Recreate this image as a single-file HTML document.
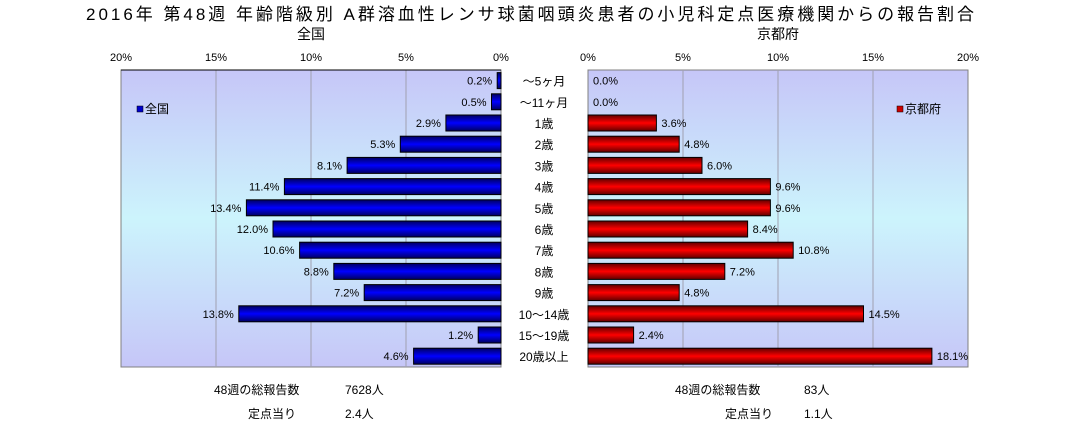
<!DOCTYPE html><html><head><meta charset="utf-8"><style>body{margin:0;background:#fff}svg{display:block}text{font-family:"Liberation Sans","Noto Sans CJK JP",sans-serif}</style></head><body>
<svg width="1083" height="429" viewBox="0 0 1083 429">
<defs>
<linearGradient id="bg" x1="0" y1="0" x2="0" y2="1"><stop offset="0" stop-color="#c6c6f8"/><stop offset="0.5" stop-color="#ccf4fc"/><stop offset="1" stop-color="#c6c6f8"/></linearGradient>
<linearGradient id="bl" x1="0" y1="0" x2="0" y2="1"><stop offset="0" stop-color="#000060"/><stop offset="0.5" stop-color="#0000ff"/><stop offset="1" stop-color="#000060"/></linearGradient>
<linearGradient id="rd" x1="0" y1="0" x2="0" y2="1"><stop offset="0" stop-color="#600000"/><stop offset="0.5" stop-color="#ff0000"/><stop offset="1" stop-color="#600000"/></linearGradient>
</defs>
<text x="86" y="20" font-size="17" textLength="888" lengthAdjust="spacing">2016年 第48週 年齢階級別 A群溶血性レンサ球菌咽頭炎患者の小児科定点医療機関からの報告割合</text>
<text x="311" y="39" font-size="14" text-anchor="middle">全国</text>
<text x="778" y="39" font-size="14" text-anchor="middle">京都府</text>
<g font-size="11" text-anchor="middle">
<text x="121" y="61">20%</text><text x="216" y="61">15%</text><text x="311" y="61">10%</text><text x="406" y="61">5%</text><text x="501" y="61">0%</text>
<text x="588" y="61">0%</text><text x="683" y="61">5%</text><text x="778" y="61">10%</text><text x="873" y="61">15%</text><text x="968" y="61">20%</text>
</g>
<rect x="121" y="70" width="380" height="297" fill="url(#bg)" stroke="#808080"/>
<rect x="588" y="70" width="380" height="297" fill="url(#bg)" stroke="#808080"/>
<g stroke="#a0a0b0" stroke-width="1">
<line x1="216" y1="70" x2="216" y2="367"/><line x1="311" y1="70" x2="311" y2="367"/><line x1="406" y1="70" x2="406" y2="367"/>
<line x1="683" y1="70" x2="683" y2="367"/><line x1="778" y1="70" x2="778" y2="367"/><line x1="873" y1="70" x2="873" y2="367"/>
</g>
<line x1="121" y1="70" x2="501" y2="70" stroke="#000"/>
<rect x="137" y="106" width="6" height="6" fill="#0000cc" stroke="#000" stroke-width="0.5"/><text x="145" y="113" font-size="12">全国</text>
<rect x="897" y="106" width="6" height="6" fill="#cc0000" stroke="#000" stroke-width="0.5"/><text x="905" y="113" font-size="12">京都府</text>
<g id="bars" font-size="11"></g>
<g font-size="12" text-anchor="middle" id="cats"></g>
<g font-size="12">
<text x="214" y="394">48週の総報告数</text><text x="345" y="394">7628人</text>
<text x="248" y="418">定点当り</text><text x="345" y="418">2.4人</text>
<text x="675" y="394">48週の総報告数</text><text x="804" y="394">83人</text>
<text x="725" y="418">定点当り</text><text x="804" y="418">1.1人</text>
</g>
</svg>
<script>
var L=[0.2,0.5,2.9,5.3,8.1,11.4,13.4,12.0,10.6,8.8,7.2,13.8,1.2,4.6];
var R=[0.0,0.0,3.6,4.8,6.0,9.6,9.6,8.4,10.8,7.2,4.8,14.5,2.4,18.1];
var C=["～5ヶ月","～11ヶ月","1歳","2歳","3歳","4歳","5歳","6歳","7歳","8歳","9歳","10～14歳","15～19歳","20歳以上"];
var s="",c="";
for(var i=0;i<14;i++){var cy=70+21.2*(i+0.5),y=cy-8;
var w=L[i]*19;s+='<rect x="'+(501-w)+'" y="'+y+'" width="'+w+'" height="16" fill="url(#bl)" stroke="#000"/>';
s+='<text x="'+(501-w-5)+'" y="'+(cy+4)+'" text-anchor="end">'+L[i].toFixed(1)+'%</text>';
var r=R[i]*19;if(r>0)s+='<rect x="588" y="'+y+'" width="'+r+'" height="16" fill="url(#rd)" stroke="#000"/>';
s+='<text x="'+(588+r+5)+'" y="'+(cy+4)+'">'+R[i].toFixed(1)+'%</text>';
c+='<text x="544" y="'+(cy+5)+'">'+C[i]+'</text>';}
document.getElementById("bars").innerHTML=s;document.getElementById("cats").innerHTML=c;
</script>
</body></html>
